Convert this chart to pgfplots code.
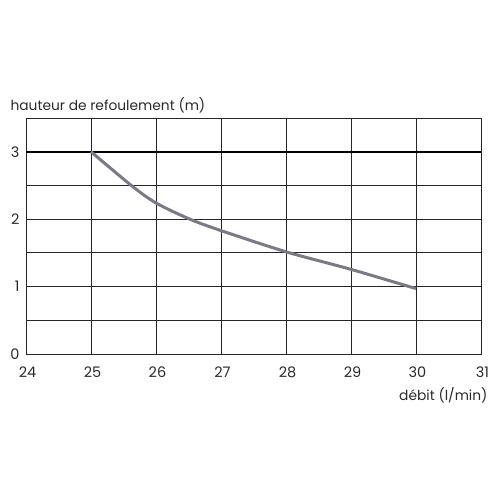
\documentclass[border=0pt]{standalone}
\usepackage{pgfplots}
\pgfplotsset{compat=1.18}
\usepackage{fontspec}
\setmainfont{Poppins}
\definecolor{txt}{HTML}{2A2A2A}
\definecolor{curve}{HTML}{7A7A86}
\begin{document}
\begin{tikzpicture}[x=1pt,y=1pt]
\path[use as bounding box] (0,0) rectangle (496,496);
\begin{axis}[
  at={(26pt,142pt)}, anchor=south west,
  scale only axis, width=455pt, height=236pt,
  xmin=24, xmax=31, ymin=0, ymax=3.5,
  xtick={24,...,31}, ytick={0,1,2},
  extra y ticks={3},
  extra y tick style={major grid style={black, line width=2pt}},
  minor ytick={0.5,1.5,2.5},
  grid=both,
  major grid style={black!85, line width=0.9pt},
  minor grid style={black!85, line width=0.9pt},
  axis line style={black!85, line width=0.9pt},
  major tick length=0pt, minor tick length=0pt,
  tick style={draw=none},
  /pgf/number format/assume math mode=true,
  ticklabel style={font=\fontsize{14.5}{16}\selectfont, text=txt},
  xticklabel style={yshift=-9pt, xshift=1.5pt},
  yticklabel style={xshift=-3pt},
  clip=false,
]
\addplot[curve, line width=3pt, smooth, tension=0.5] coordinates {
 (25,3.0) (25.62,2.5) (26,2.24) (26.52,2.0) (27,1.83) (28,1.516) (29,1.255) (30,0.97)
};
\end{axis}
\node[anchor=west, text=txt, font=\fontsize{13.8}{15}\selectfont] at (7,391) {hauteur de refoulement (m)};
\node[anchor=east, text=txt, font=\fontsize{13.8}{15}\selectfont] at (491,101) {débit (l/min)};
\end{tikzpicture}
\end{document}
